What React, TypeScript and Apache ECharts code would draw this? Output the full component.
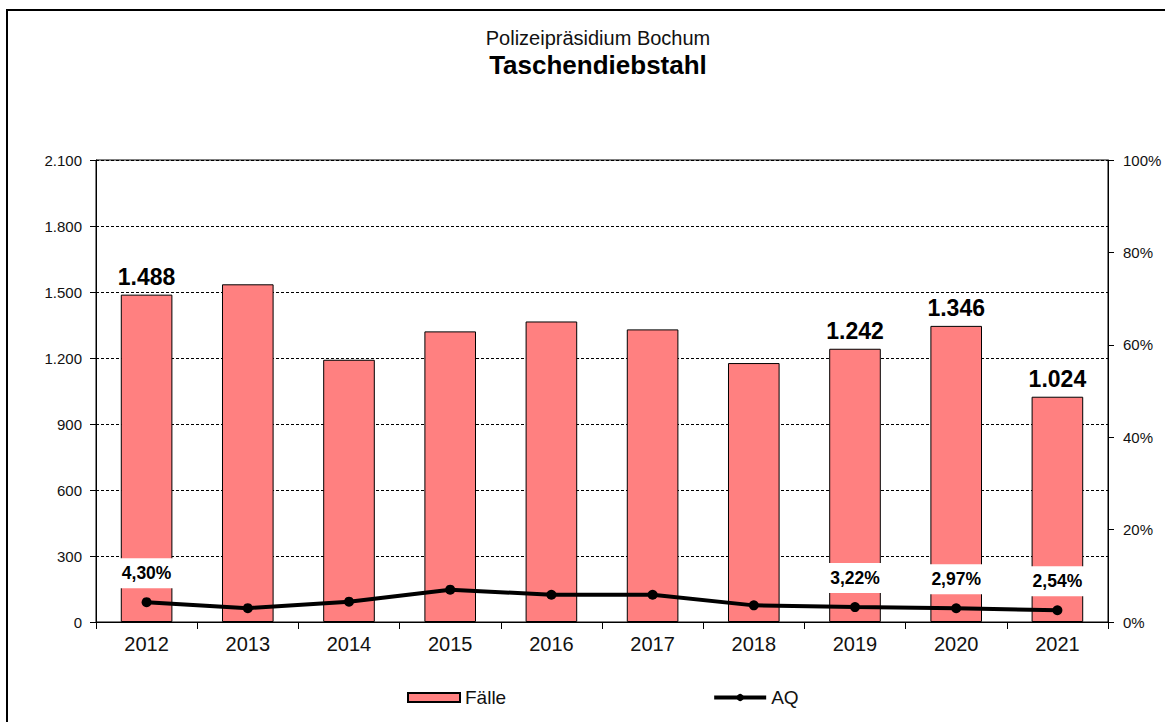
import React, { useEffect, useRef } from "react";
import * as echarts from "echarts";

const years = ["2012", "2013", "2014", "2015", "2016", "2017", "2018", "2019", "2020", "2021"];
const faelle = [1488, 1535, 1192, 1321, 1366, 1330, 1177, 1242, 1346, 1024];
const aq = [4.3, 3.0, 4.4, 7.0, 5.9, 5.9, 3.6, 3.22, 2.97, 2.54];
const labelledYears = ["2012", "2019", "2020", "2021"];
const leftTicks = { min: 0, max: 2100, interval: 300 };
const rightTicks = { min: 0, max: 100, interval: 20 };

const FONT = "Liberation Sans, Arial, sans-serif";

function deNumber(v: number): string {
  const s = Math.round(v).toString();
  return s.replace(/\B(?=(\d{3})+(?!\d))/g, ".");
}
function dePercent(v: number): string {
  return v.toFixed(2).replace(".", ",") + "%";
}

export default function App() {
  const ref = useRef<HTMLDivElement>(null);
  useEffect(() => {
    if (!ref.current) return;
    const chart = echarts.init(ref.current, null, { renderer: "svg" });
    const barData = faelle.map((v, i) =>
      labelledYears.includes(years[i]) ? { value: v, label: { show: true } } : { value: v }
    );
    const lineData = aq.map((v, i) =>
      labelledYears.includes(years[i]) ? { value: v, label: { show: true } } : { value: v }
    );
    chart.setOption({
      animation: false,
      backgroundColor: "#fff",
      textStyle: { fontFamily: FONT, color: "#000" },
      title: [
        {
          text: "Polizeipräsidium Bochum",
          left: 593,
          top: 23,
          textAlign: "center",
          textStyle: { fontFamily: FONT, fontSize: 20, fontWeight: "normal", color: "#111" },
        },
        {
          text: "Taschendiebstahl",
          left: 593,
          top: 47,
          textAlign: "center",
          textStyle: { fontFamily: FONT, fontSize: 26, fontWeight: "bold", color: "#000" },
        },
      ],
      graphic: [
        {
          type: "rect",
          shape: { x: 7, y: 10, width: 1400, height: 900 },
          style: { fill: "none", stroke: "#000", lineWidth: 2 },
          silent: true,
        },
      ],
      legend: {
        left: 407,
        top: 688,
        padding: 0,
        itemWidth: 52,
        itemHeight: 9,
        itemGap: 206,
        textStyle: { fontFamily: FONT, fontSize: 19, color: "#111" },
        data: [
          { name: "Fälle", icon: "rect" },
          { name: "AQ", lineStyle: { width: 4, color: "#000" } },
        ],
      },
      grid: {
        left: 96,
        right: 57,
        top: 160,
        bottom: 100,
        show: true,
        borderColor: "#000",
        borderWidth: 1,
        backgroundColor: "transparent",
      },
      xAxis: {
        type: "category",
        data: years,
        boundaryGap: true,
        axisLine: { lineStyle: { color: "#000", width: 1 } },
        axisTick: { show: true, length: 7, lineStyle: { color: "#000" } },
        axisLabel: { fontFamily: FONT, fontSize: 20, color: "#111", margin: 12 },
      },
      yAxis: [
        {
          type: "value",
          min: leftTicks.min,
          max: leftTicks.max,
          interval: leftTicks.interval,
          axisLine: { show: true, lineStyle: { color: "#000", width: 1 } },
          axisTick: { show: true, length: 6, lineStyle: { color: "#000" } },
          axisLabel: {
            fontFamily: FONT,
            fontSize: 15,
            color: "#111",
            margin: 14,
            formatter: (v: number) => deNumber(v),
          },
          splitLine: { show: true, lineStyle: { color: "#000", type: [3, 2], width: 1 } },
        },
        {
          type: "value",
          position: "right",
          min: rightTicks.min,
          max: rightTicks.max,
          interval: rightTicks.interval,
          axisLine: { show: true, lineStyle: { color: "#000", width: 1 } },
          axisTick: { show: true, length: 6, lineStyle: { color: "#000" } },
          axisLabel: {
            fontFamily: FONT,
            fontSize: 15,
            color: "#111",
            margin: 15,
            formatter: (v: number) => v + "%",
          },
          splitLine: { show: false },
        },
      ],
      series: [
        {
          name: "Fälle",
          type: "bar",
          yAxisIndex: 0,
          data: barData,
          barWidth: "51%",
          itemStyle: { color: "#FF8080", borderColor: "#000", borderWidth: 1 },
          label: {
            show: false,
            position: "top",
            distance: 6,
            fontFamily: FONT,
            fontSize: 23,
            fontWeight: "bold",
            color: "#000",
            formatter: (p: any) => deNumber(p.value),
          },
          z: 2,
        },
        {
          name: "AQ",
          type: "line",
          yAxisIndex: 1,
          data: lineData,
          symbol: "circle",
          symbolSize: 10,
          lineStyle: { color: "#000", width: 4 },
          itemStyle: { color: "#000" },
          label: {
            show: false,
            position: "top",
            distance: 9,
            fontFamily: FONT,
            fontSize: 17.5,
            fontWeight: "bold",
            color: "#000",
            backgroundColor: "#fff",
            padding: [6, 4],
            formatter: (p: any) => dePercent(p.value),
          },
          z: 5,
        },
      ],
    });
    return () => chart.dispose();
  }, []);
  return (
    <div
      ref={ref}
      style={{ position: "absolute", left: 0, top: 0, width: 1165, height: 722 }}
    />
  );
}
